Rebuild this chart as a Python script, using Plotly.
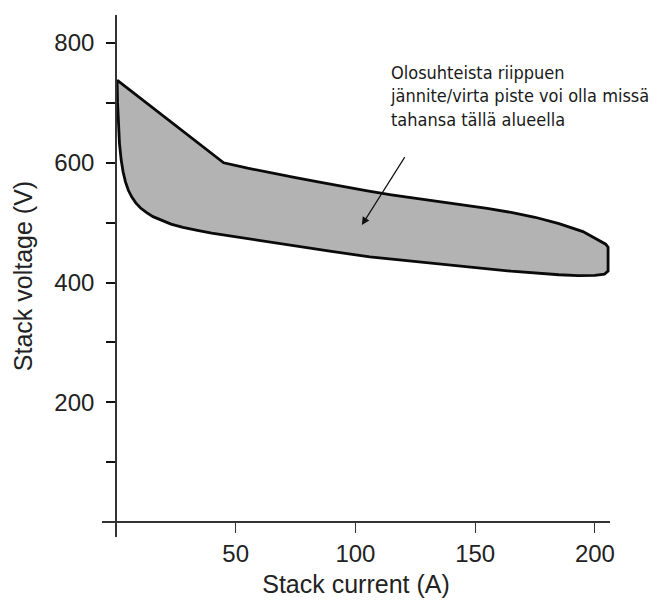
import plotly.graph_objects as go

# Upper boundary of the operating region (left -> right)
upper_current = [0.5, 45, 55, 65, 75, 85, 95, 105, 115, 125, 135, 145, 155, 165, 175, 185, 195, 204.5]
upper_voltage = [738, 600, 591, 582.5, 575, 567.5, 560, 553, 546.5, 541, 535.5, 530, 524, 517, 509, 498.5, 485, 464]

# Right edge (vertical)
right_current = [205.5, 205.5, 205.5]
right_voltage = [459, 440, 419]

# Lower boundary of the operating region (right -> left)
lower_current = [204, 200, 193, 185, 165, 145, 125, 106, 90, 75, 60, 50, 40, 34, 28, 23, 19, 15.5,
                 12.7, 10.3, 8.3, 6.6, 5.2, 4.0, 3.0, 2.2, 1.5, 1.0, 0.7, 0.5]
lower_voltage = [414, 412, 411.5, 413, 419, 427, 436, 443, 452, 461, 470, 476, 482.5, 487, 492, 497.5, 503.5, 510,
                 517, 524.5, 533, 543, 554, 568, 585, 605, 632, 665, 700, 738]

# Axis ticks
y_tickvals = [100, 200, 300, 400, 500, 600, 700, 800]
y_ticktext = ["", "200", "", "400", "", "600", "", "800"]
x_tickvals = [50, 100, 150, 200]
x_ticktext = ["50", "100", "150", "200"]

note_text = "Olosuhteista riippuen<br>jännite/virta piste voi olla missä<br>tahansa tällä alueella"
arrow_from = (121, 612)
arrow_to = (102.7, 496)
note_pos = (113.6, 772)

x_range = [-5.8, 206.3]
y_range = [-25, 846.8]

cx = upper_current + right_current + lower_current
cy = upper_voltage + right_voltage + lower_voltage

fig = go.Figure()
fig.add_trace(go.Scatter(
    x=cx, y=cy, mode="lines", fill="toself",
    fillcolor="#b3b3b3",
    line=dict(color="#0a0a0a", width=2.8, shape="linear"),
    hoverinfo="skip", showlegend=False,
))

fig.add_annotation(
    x=arrow_to[0], y=arrow_to[1], ax=arrow_from[0], ay=arrow_from[1],
    xref="x", yref="y", axref="x", ayref="y",
    showarrow=True, arrowhead=2, arrowsize=1.3, arrowwidth=1.2, arrowcolor="#111",
    text="",
)
fig.add_annotation(
    x=note_pos[0], y=note_pos[1], xref="x", yref="y",
    xanchor="left", yanchor="top", align="left", showarrow=False,
    text=note_text,
    font=dict(family="Liberation Sans Narrow, DejaVu Sans Condensed, Arial Narrow, sans-serif",
              size=18, color="#1a1a1a"),
)

fig.update_layout(
    width=672, height=607,
    margin=dict(l=102, r=62, t=15, b=70),
    paper_bgcolor="white", plot_bgcolor="white",
    font=dict(family="Liberation Sans, Arial, sans-serif", size=22, color="#222"),
    xaxis=dict(
        range=x_range, anchor="free", position=(0 - y_range[0]) / (y_range[1] - y_range[0]),
        showgrid=False, zeroline=False, showline=True, linecolor="#333", linewidth=1.5,
        ticks="outside", ticklen=10, tickwidth=1.3, tickcolor="#333",
        tickmode="array", tickvals=x_tickvals, ticktext=x_ticktext,
        tickfont=dict(size=24),
        title=dict(text="Stack current (A)", standoff=9, font=dict(size=25)),
        automargin=False,
    ),
    yaxis=dict(
        range=y_range, anchor="free", position=(0 - x_range[0]) / (x_range[1] - x_range[0]),
        showgrid=False, zeroline=False, showline=True, linecolor="#333", linewidth=1.5,
        ticks="outside", ticklen=9, tickwidth=2, tickcolor="#111",
        tickmode="array", tickvals=y_tickvals, ticktext=y_ticktext,
        tickfont=dict(size=24), ticklabelstandoff=7,
        title=dict(text="Stack voltage (V)", standoff=14, font=dict(size=25)),
        automargin=False,
    ),
)

fig.write_html("out.html", config={"displayModeBar": False},
               post_script="document.body.style.margin='0';")
